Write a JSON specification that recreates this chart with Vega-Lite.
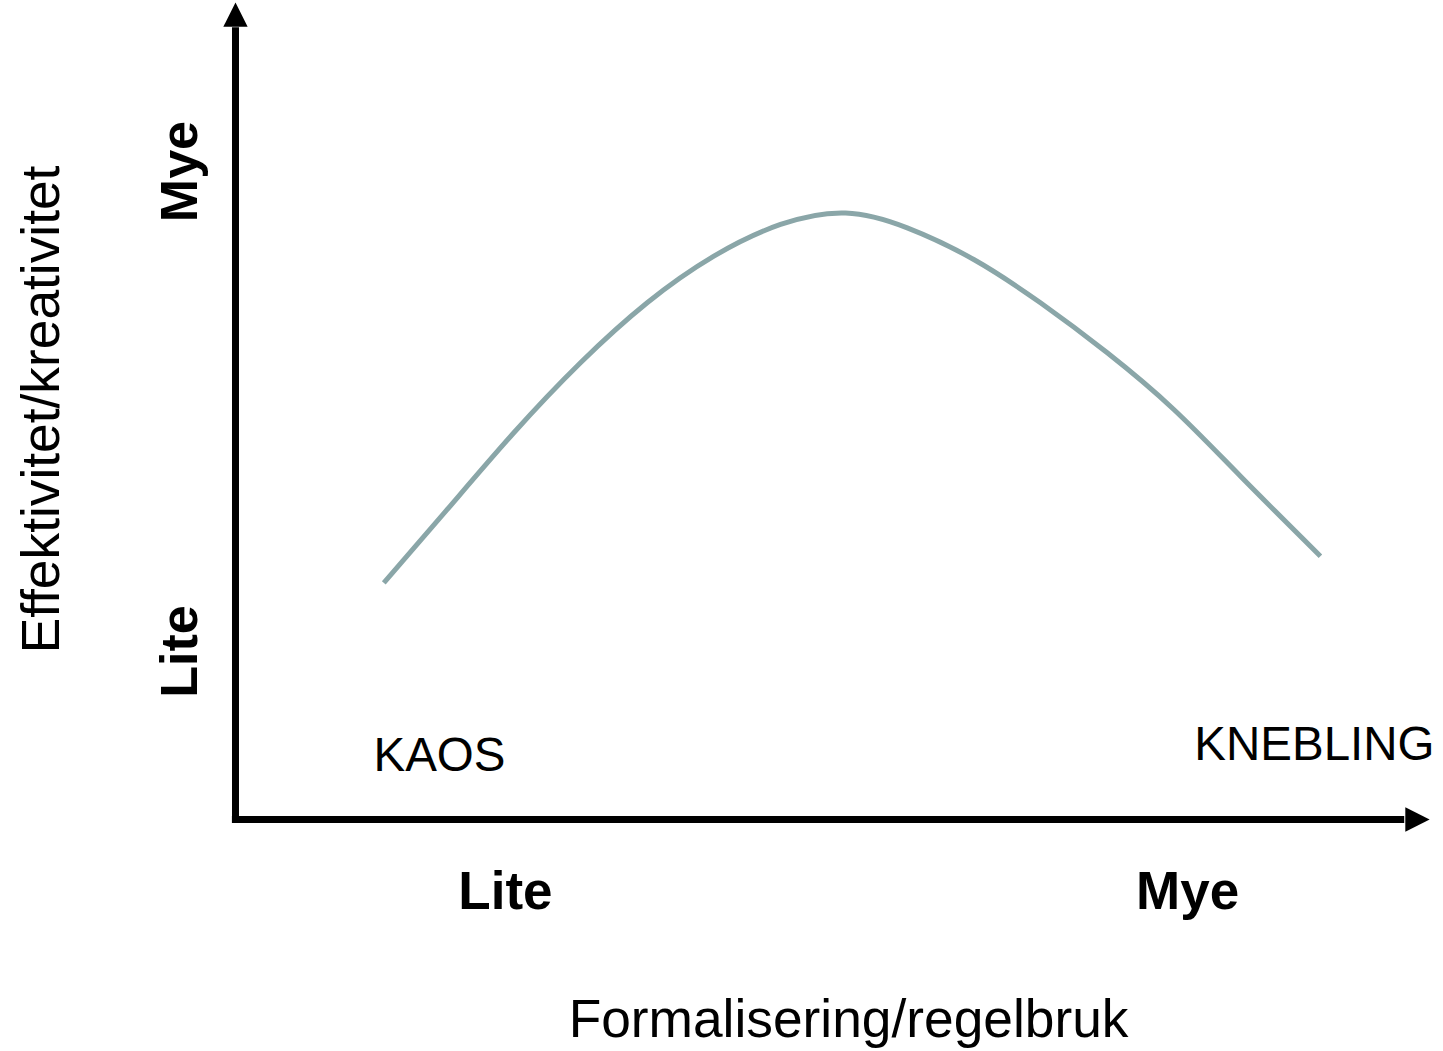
{
  "$schema": "https://vega.github.io/schema/vega-lite/v6.json",
  "width": 1443,
  "height": 1051,
  "padding": 0,
  "autosize": {"type": "fit", "contains": "padding"},
  "config": {"view": {"stroke": null}, "font": "Liberation Sans"},
  "background": "white",
  "datasets": {
    "curve": [
      {"u": 12.41, "v": 29.04},
      {"u": 17.72, "v": 38.04},
      {"u": 23.29, "v": 47.45},
      {"u": 28.87, "v": 56.04},
      {"u": 34.45, "v": 63.40},
      {"u": 40.03, "v": 69.12},
      {"u": 45.61, "v": 73.01},
      {"u": 51.05, "v": 74.42},
      {"u": 56.21, "v": 72.60},
      {"u": 61.78, "v": 68.71},
      {"u": 67.36, "v": 63.40},
      {"u": 72.95, "v": 57.26},
      {"u": 78.52, "v": 50.31},
      {"u": 84.10, "v": 42.12},
      {"u": 90.79, "v": 32.31}
    ],
    "axes": [
      {"u": 0, "v": -0.4, "u2": 0, "v2": 97.2},
      {"u": -0.3, "v": 0, "u2": 97.8, "v2": 0}
    ],
    "arrowUp": [{"u": 0, "v": 98.77}],
    "arrowRight": [{"u": 98.91, "v": 0}],
    "boldH": [
      {"u": 22.59, "v": -11.04, "label": "Lite"},
      {"u": 79.67, "v": -11.04, "label": "Mye"}
    ],
    "boldV": [
      {"u": -3.18, "v": 79.5, "label": "Mye"},
      {"u": -3.18, "v": 20.6, "label": "Lite"}
    ],
    "regions": [
      {"u": 17.07, "v": 6.01, "label": "KAOS"},
      {"u": 90.29, "v": 7.36, "label": "KNEBLING"}
    ],
    "titleY": [{"u": -14.81, "v": 50.31, "label": "Effektivitet/kreativitet"}],
    "titleX": [{"u": 51.30, "v": -26.63, "label": "Formalisering/regelbruk"}]
  },
  "encoding": {
    "x": {"field": "u", "type": "quantitative", "axis": null, "scale": {"domain": [-19.707, 101.046], "nice": false, "zero": false}},
    "y": {"field": "v", "type": "quantitative", "axis": null, "scale": {"domain": [-28.405, 100.552], "nice": false, "zero": false}}
  },
  "layer": [
    {
      "data": {"name": "curve"},
      "mark": {"type": "line", "interpolate": "natural", "color": "#8aa6a8", "strokeWidth": 5, "strokeCap": "butt"}
    },
    {
      "data": {"name": "axes"},
      "mark": {"type": "rule", "color": "black", "strokeWidth": 7, "strokeCap": "butt"},
      "encoding": {
        "x2": {"field": "u2"},
        "y2": {"field": "v2"}
      }
    },
    {
      "data": {"name": "arrowUp"},
      "mark": {"type": "point", "shape": "M-1,1L0,-1L1,1Z", "filled": true, "color": "black", "opacity": 1, "size": 590, "strokeWidth": 0}
    },
    {
      "data": {"name": "arrowRight"},
      "mark": {"type": "point", "shape": "M-1,-1L1,0L-1,1Z", "filled": true, "color": "black", "opacity": 1, "size": 590, "strokeWidth": 0}
    },
    {
      "data": {"name": "boldH"},
      "mark": {"type": "text", "font": "Liberation Sans", "fontSize": 53, "fontWeight": "bold", "align": "center", "baseline": "alphabetic", "color": "black"},
      "encoding": {"text": {"field": "label"}}
    },
    {
      "data": {"name": "boldV"},
      "mark": {"type": "text", "font": "Liberation Sans", "fontSize": 52, "fontWeight": "bold", "align": "center", "baseline": "alphabetic", "angle": 270, "color": "black"},
      "encoding": {"text": {"field": "label"}}
    },
    {
      "data": {"name": "regions"},
      "mark": {"type": "text", "font": "Liberation Sans", "fontSize": 47.5, "align": "center", "baseline": "alphabetic", "color": "black"},
      "encoding": {"text": {"field": "label"}}
    },
    {
      "data": {"name": "titleY"},
      "mark": {"type": "text", "font": "Liberation Sans", "fontSize": 53.3, "align": "center", "baseline": "alphabetic", "angle": 270, "color": "black"},
      "encoding": {"text": {"field": "label"}}
    },
    {
      "data": {"name": "titleX"},
      "mark": {"type": "text", "font": "Liberation Sans", "fontSize": 53.3, "align": "center", "baseline": "alphabetic", "color": "black"},
      "encoding": {"text": {"field": "label"}}
    }
  ]
}
